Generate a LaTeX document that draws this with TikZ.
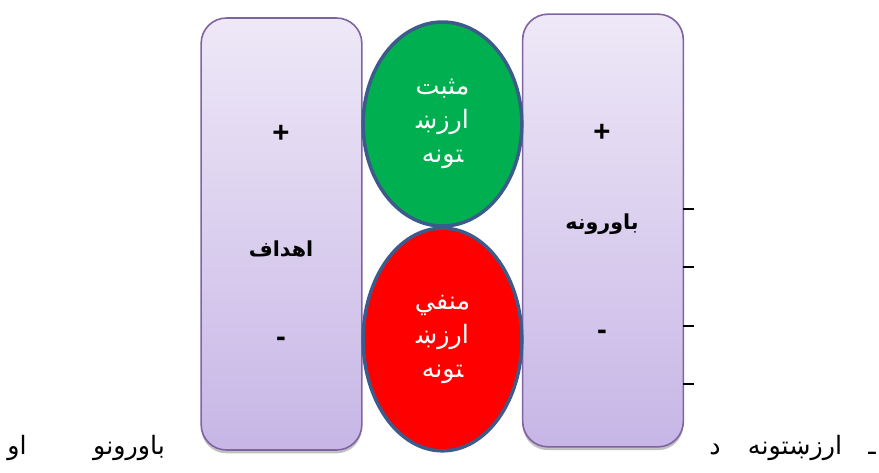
\documentclass[tikz,border=0pt]{standalone}
\usepackage{fontspec}
\usetikzlibrary{shapes.geometric,shadows}
\TeXXeTstate=1
\setmainfont{DejaVu Sans}[BoldFont={DejaVu Sans Bold}]
\newfontfamily\arabicfont[Script=Arabic,BoldFont={DejaVu Sans Bold}]{DejaVu Sans}
\newfontfamily\signfont{Liberation Sans}[BoldFont={Liberation Sans Bold}]
\definecolor{boxtop}{RGB}{238,232,247}
\definecolor{boxbot}{RGB}{199,182,230}
\definecolor{boxedge}{RGB}{128,100,162}
\definecolor{ringblue}{RGB}{60,90,138}
\definecolor{posgreen}{RGB}{0,176,80}
\definecolor{negred}{RGB}{255,0,0}
\begin{document}
\begin{tikzpicture}[x=0.75pt,y=-0.75pt,
  pillar/.style={draw=boxedge, line width=1.2pt, rounded corners=19pt,
    top color=boxtop, bottom color=boxbot, minimum width=120.5pt,
    drop shadow={shadow xshift=0pt, shadow yshift=-2.5pt, opacity=0.35, fill=black!70}},
  bubble/.style={ellipse, draw=ringblue, line width=2.6pt, inner sep=0pt,
    minimum width=119pt, text=white, align=center,
    font=\arabicfont\fontsize{19}{25.5}\selectfont},
  boxlabel/.style={inner sep=0pt, font=\arabicfont\bfseries\fontsize{15.5}{18}\selectfont},
  sign/.style={inner sep=0pt, font=\signfont\bfseries\fontsize{22}{24}\selectfont},
  bodytext/.style={inner sep=0pt, anchor=base, font=\arabicfont\fontsize{19}{22}\selectfont},
  tick/.style={line width=1.4pt, black}
]
\useasboundingbox (0,0) rectangle (879,472);

% side boxes
\node[pillar, minimum height=324pt] (lbox) at (281.5,234) {};
\node[pillar, minimum height=324.5pt] (rbox) at (603,230.5) {};

% ellipses
\node[bubble, fill=posgreen, minimum height=153pt] (pos) at (442.5,124)
  {\beginR مثبت\endR\\ \beginR ارزښ^^^^200d\endR\\ \beginR ^^^^200dتونه\endR};
\node[bubble, fill=negred, minimum height=167pt] (neg) at (442.5,339.5)
  {\beginR منفي\endR\\ \beginR ارزښ^^^^200d\endR\\ \beginR ^^^^200dتونه\endR};

% box texts
\node[sign] (lplus) at (281,134) {+};
\node[boxlabel] (lname) at (281,249) {\beginR اهداف\endR};
\node[sign] (lminus) at (281,342) {-};
\node[sign] (rplus) at (602,133) {+};
\node[boxlabel] (rname) at (602,224) {\beginR باورونه\endR};
\node[sign] (rminus) at (602,335) {-};

% ticks beside the right box
\coordinate (t1) at (683,209);
\coordinate (t2) at (683,267);
\coordinate (t3) at (683,326);
\coordinate (t4) at (683,384);
\draw[tick] (t1) -- ++(11,0);
\draw[tick] (t2) -- ++(11,0);
\draw[tick] (t3) -- ++(11,0);
\draw[tick] (t4) -- ++(11,0);

% bottom line of text
\node[bodytext] (w1) at (17,454) {\beginR او\endR};
\node[bodytext] (w2) at (129,454) {\beginR باورونو\endR};
\node[bodytext] (w3) at (715,454) {\beginR د\endR};
\node[bodytext] (w4) at (795,454) {\beginR ارزښتونه\endR};
\node[bodytext] (w5) at (872,454) {\beginR ـ\endR};
\end{tikzpicture}
\end{document}
